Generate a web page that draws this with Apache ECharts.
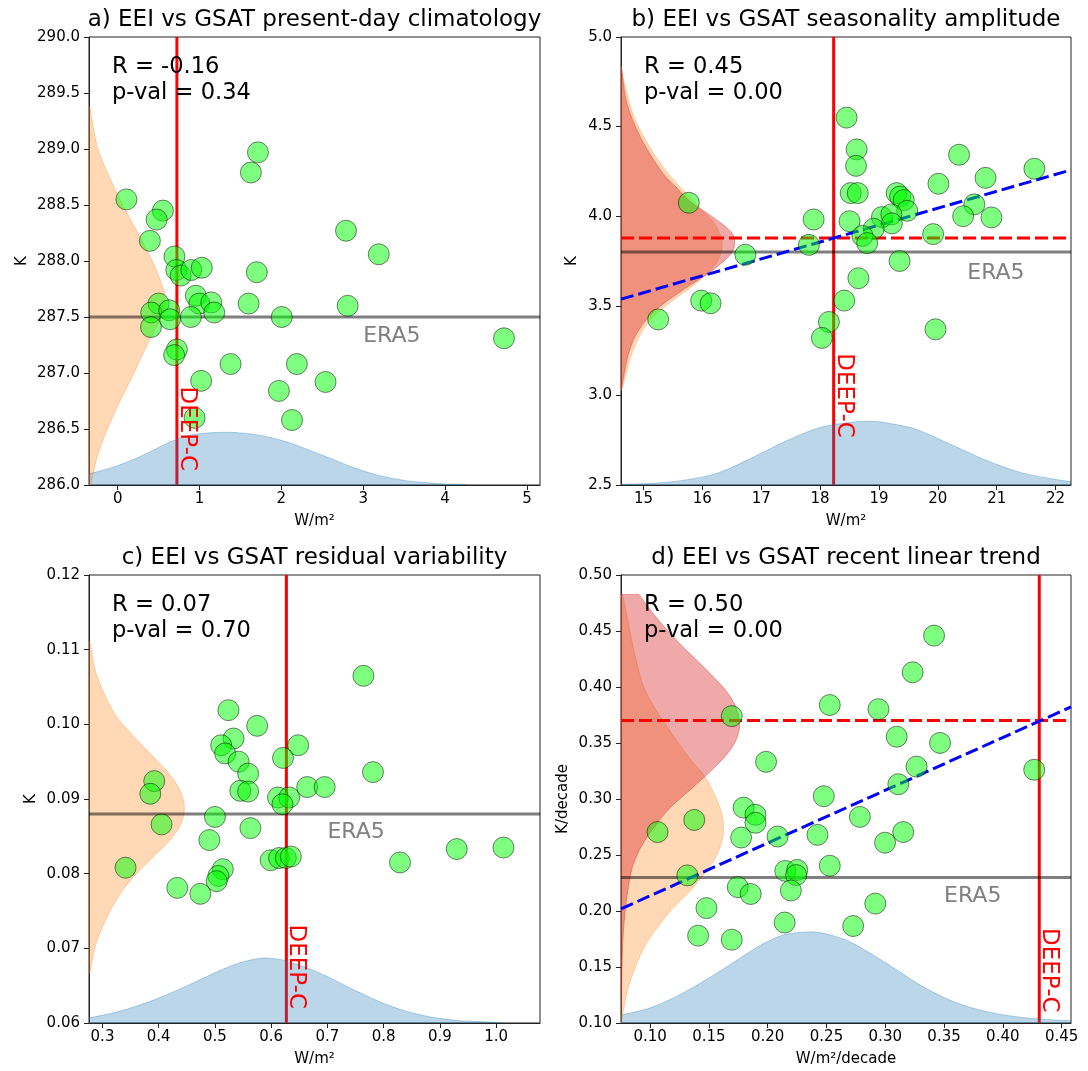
<!DOCTYPE html>
<html><head><meta charset="utf-8">
<script src="https://cdn.jsdelivr.net/npm/echarts@6/dist/echarts.min.js"></script>
<style>html,body{margin:0;padding:0;background:#fff}#c{width:1088px;height:1071px}</style>
</head><body><div id="c"></div>
<script>
// ---------------- DATA ----------------
const titles = ['a) EEI vs GSAT present-day climatology','b) EEI vs GSAT seasonality amplitude','c) EEI vs GSAT residual variability','d) EEI vs GSAT recent linear trend'];
const rVals = ['-0.16','0.45','0.07','0.50'];
const pVals = ['0.34','0.00','0.70','0.00'];
const xNames = ['W/m²','W/m²','W/m²','W/m²/decade'];
const yNames = ['K','K','K','K/decade'];

const xLimA=[-0.35,5.16], yLimA=[286,290];
const xLimB=[14.618,22.262], yLimB=[2.5,5.0];
const xLimC=[0.276,1.078], yLimC=[0.06,0.12];
const xLimD=[0.0752,0.458], yLimD=[0.10,0.50];

const xTicksA=[0,1,2,3,4,5], yTicksA=[286.0,286.5,287.0,287.5,288.0,288.5,289.0,289.5,290.0];
const xTicksB=[15,16,17,18,19,20,21,22], yTicksB=[2.5,3.0,3.5,4.0,4.5,5.0];
const xTicksC=[0.3,0.4,0.5,0.6,0.7,0.8,0.9,1.0], yTicksC=[0.06,0.07,0.08,0.09,0.10,0.11,0.12];
const xTicksD=[0.10,0.15,0.20,0.25,0.30,0.35,0.40,0.45], yTicksD=[0.10,0.15,0.20,0.25,0.30,0.35,0.40,0.45,0.50];

const aX=[0.107,0.553,0.476,0.394,1.628,1.714,2.79,3.19,0.694,0.716,0.77,0.90,1.028,1.70,0.955,0.998,1.144,1.18,1.60,2.81,0.50,0.41,0.63,0.64,0.895,0.407,2.005,4.72,0.724,0.69,1.38,2.19,1.02,2.54,1.97,2.13,0.94];
const aY=[288.55,288.45,288.37,288.18,288.79,288.97,288.27,288.06,288.04,287.92,287.87,287.92,287.94,287.90,287.69,287.62,287.63,287.54,287.62,287.60,287.62,287.54,287.56,287.48,287.50,287.41,287.50,287.31,287.21,287.16,287.08,287.08,286.93,286.92,286.84,286.58,286.60];
const bX=[18.45,18.62,18.61,20.36,21.64,20.81,20.01,18.52,18.64,19.30,19.36,19.42,19.48,15.77,20.62,20.43,20.91,17.89,18.50,19.05,19.21,19.22,18.91,19.92,18.72,18.80,17.81,16.73,19.35,18.65,15.98,16.14,15.25,18.41,18.15,18.03,19.96];
const bY=[4.55,4.373,4.281,4.343,4.265,4.214,4.181,4.129,4.129,4.129,4.11,4.09,4.03,4.075,4.066,4.0,3.993,3.982,3.972,3.995,4.01,3.96,3.93,3.90,3.89,3.85,3.84,3.785,3.75,3.654,3.529,3.514,3.424,3.529,3.41,3.321,3.369];
const cX=[0.764,0.524,0.575,0.533,0.511,0.518,0.648,0.621,0.542,0.559,0.781,0.392,0.385,0.545,0.559,0.664,0.695,0.612,0.632,0.620,0.500,0.405,0.563,0.490,0.341,0.514,0.506,0.503,0.433,0.474,0.599,0.614,0.626,0.635,0.829,0.930,1.013];
const cY=[0.1065,0.1019,0.0998,0.0981,0.0972,0.0961,0.0972,0.0955,0.0950,0.0934,0.0936,0.0924,0.0907,0.0911,0.0910,0.0916,0.0916,0.0902,0.0902,0.0893,0.0876,0.0866,0.0861,0.0845,0.0808,0.0806,0.0797,0.0790,0.0781,0.0773,0.0818,0.0821,0.0821,0.0823,0.0815,0.0833,0.0835];
const dX=[0.3415,0.3233,0.2528,0.2942,0.1694,0.3097,0.3466,0.1986,0.3266,0.4267,0.3111,0.2477,0.1795,0.1896,0.1896,0.2784,0.1375,0.1063,0.1774,0.2084,0.2423,0.3153,0.2998,0.2528,0.2149,0.2251,0.2242,0.1316,0.1745,0.1855,0.2197,0.2915,0.1479,0.2144,0.2727,0.1408,0.1694];
const dY=[0.4459,0.4131,0.3839,0.3802,0.3740,0.3556,0.3501,0.3332,0.3289,0.3261,0.3132,0.3025,0.2923,0.2859,0.2788,0.2840,0.2813,0.2705,0.2656,0.2665,0.2680,0.2705,0.2610,0.2404,0.2358,0.2367,0.2321,0.2318,0.2213,0.2152,0.2183,0.2066,0.2026,0.1897,0.1866,0.1780,0.1744];

// reference values
const deepC=[0.724,18.23,0.627,0.431];
const era5=[287.5,3.80,0.088,0.230];
const constrainedB=3.879, constrainedD=0.370;
const fitB=[[14.618,3.537],[22.262,4.258]];
const fitD=[[0.0752,0.2019],[0.458,0.3822]];
const eraLabel=[[3.0,287.33],[20.5,3.68],[0.70,0.0855],[0.35,0.2134]];
const deepLabelY=[286.88,3.235,0.0732,0.1848];

// density curves ([x, y] in data units)
const blueA=[[-0.35,286.101],[-0.186,286.131],[0.021,286.179],[0.227,286.238],[0.433,286.31],[0.639,286.384],[0.845,286.437],[1.051,286.461],[1.257,286.47],[1.381,286.47],[1.463,286.467],[1.67,286.452],[1.876,286.423],[2.082,286.381],[2.288,286.327],[2.494,286.268],[2.70,286.208],[2.906,286.149],[3.112,286.101],[3.318,286.065],[3.524,286.039],[3.73,286.024],[3.936,286.012],[4.142,286.006],[4.265,286.0]];
const orangeA=[[-0.338,289.375],[-0.31,289.25],[-0.24,289.0],[-0.10,288.75],[0.06,288.5],[0.25,288.25],[0.425,288.0],[0.56,287.75],[0.577,287.65],[0.535,287.5],[0.36,287.25],[0.20,287.0],[0.03,286.75],[-0.125,286.5],[-0.25,286.25],[-0.329,286.0]];
const blueB=[[14.618,2.5037],[15.14,2.5093],[15.71,2.528],[16.28,2.569],[16.85,2.653],[17.42,2.7455],[17.99,2.82],[18.57,2.8516],[18.79,2.8553],[19.02,2.8516],[19.42,2.829],[19.71,2.801],[20.28,2.7176],[20.85,2.634],[21.42,2.569],[21.99,2.5316],[22.262,2.5186]];
const orangeB=[[14.618,4.842],[14.692,4.721],[14.863,4.535],[15.177,4.349],[15.519,4.2],[15.89,4.071],[16.204,3.959],[16.335,3.848],[16.232,3.736],[15.89,3.625],[15.434,3.513],[15.063,3.401],[14.806,3.234],[14.647,3.048],[14.618,3.03]];
const redB=[[14.632,4.814],[14.72,4.628],[14.947,4.442],[15.29,4.257],[15.547,4.164],[15.833,4.071],[16.175,3.996],[16.46,3.922],[16.546,3.866],[16.49,3.792],[16.175,3.699],[15.662,3.587],[15.205,3.476],[14.919,3.364],[14.747,3.234],[14.632,3.048],[14.618,3.03]];
const blueC=[[0.276,0.06067],[0.3299,0.06156],[0.3898,0.06304],[0.4496,0.06496],[0.5095,0.06705],[0.5394,0.06795],[0.5693,0.06853],[0.5873,0.0687],[0.6053,0.06862],[0.6292,0.06826],[0.689,0.06661],[0.7489,0.06438],[0.8087,0.06237],[0.8686,0.06103],[0.9284,0.06036],[0.9882,0.06013],[1.0122,0.06]];
const orangeC=[[0.2777,0.11107],[0.2896,0.1066],[0.3164,0.1021],[0.3373,0.0999],[0.3641,0.0977],[0.394,0.0954],[0.4207,0.0932],[0.4386,0.091],[0.4457,0.0888],[0.4386,0.0865],[0.4177,0.0843],[0.388,0.0821],[0.3581,0.0798],[0.3343,0.0776],[0.3164,0.0754],[0.3015,0.0731],[0.2896,0.0709],[0.2825,0.0687],[0.2777,0.0667]];
const blueD=[[0.0752,0.1071],[0.1014,0.114],[0.13,0.128],[0.1585,0.1458],[0.1871,0.1652],[0.2013,0.1735],[0.2156,0.1792],[0.2327,0.1813],[0.2441,0.1807],[0.2583,0.1771],[0.2726,0.1711],[0.3011,0.1533],[0.3297,0.1339],[0.3582,0.119],[0.3868,0.1101],[0.4153,0.1051],[0.4438,0.1027],[0.458,0.1021]];
const orangeD=[[0.0767,0.4827],[0.0819,0.4554],[0.0877,0.4256],[0.0963,0.3958],[0.1135,0.3661],[0.1336,0.3363],[0.1457,0.3214],[0.1537,0.3065],[0.1595,0.2917],[0.1624,0.2768],[0.1609,0.2619],[0.1552,0.247],[0.1451,0.2321],[0.1336,0.2173],[0.1193,0.2024],[0.1078,0.1875],[0.0977,0.1726],[0.0905,0.1577],[0.0848,0.1429],[0.0805,0.128],[0.0776,0.1131],[0.0756,0.0994]];
const redD=[[0.0905,0.4827],[0.0992,0.4702],[0.1106,0.4554],[0.1236,0.4405],[0.1379,0.4256],[0.1523,0.4107],[0.1652,0.3958],[0.1733,0.381],[0.1762,0.3661],[0.1724,0.3512],[0.1624,0.3363],[0.148,0.3214],[0.1322,0.3065],[0.1164,0.2917],[0.1049,0.2768],[0.0948,0.2619],[0.0877,0.247],[0.0833,0.2321],[0.079,0.2024],[0.0767,0.1726],[0.0759,0.1429],[0.0753,0.1131]];

// ---------------- CHART ----------------
const FONT='"DejaVu Sans", sans-serif';
const grids=[{left:89,top:37,width:451,height:448},{left:621,top:37,width:450,height:448},{left:89,top:575,width:451,height:448},{left:621,top:575,width:450,height:448}];
const xLims=[xLimA,xLimB,xLimC,xLimD], yLims=[yLimA,yLimB,yLimC,yLimD];
const xTicks=[xTicksA,xTicksB,xTicksC,xTicksD], yTicks=[yTicksA,yTicksB,yTicksC,yTicksD];
const xFmt=[v=>v.toFixed(0),v=>v.toFixed(0),v=>v.toFixed(1),v=>v.toFixed(2)];
const yFmt=[v=>v.toFixed(1),v=>v.toFixed(1),v=>v.toFixed(2),v=>v.toFixed(2)];
const yNameGap=[59,41,50,50];
const scatterX=[aX,bX,cX,dX], scatterY=[aY,bY,cY,dY];

const BLUE='rgba(31,119,180,0.3)', ORANGE='rgba(255,127,14,0.3)', RED='rgba(214,39,40,0.4)';

function catmull(p){
  let d='';
  for(let i=0;i<p.length-1;i++){
    const p0=p[i-1]||p[i], p1=p[i], p2=p[i+1], p3=p[i+2]||p[i+1];
    const c1=[p1[0]+(p2[0]-p0[0])/6, p1[1]+(p2[1]-p0[1])/6];
    const c2=[p2[0]-(p3[0]-p1[0])/6, p2[1]-(p3[1]-p1[1])/6];
    d+=' C'+c1[0]+','+c1[1]+' '+c2[0]+','+c2[1]+' '+p2[0]+','+p2[1];
  }
  return d;
}
function kde(gi,pts,side,color){
  return {type:'custom',xAxisIndex:gi,yAxisIndex:gi,clip:true,silent:true,z:2,animation:false,
    data:pts,encode:{x:0,y:1},
    renderItem:function(params,api){
      if(params.dataIndex!==0) return null;
      const px=pts.map(p=>api.coord(p));
      const f=pts[0], l=pts[pts.length-1];
      const base= side==='left'? xLims[gi][0] : yLims[gi][0];
      const b1= side==='left'? api.coord([base,f[1]]) : api.coord([f[0],base]);
      const b2= side==='left'? api.coord([base,l[1]]) : api.coord([l[0],base]);
      const d='M'+b1[0]+','+b1[1]+' L'+px[0][0]+','+px[0][1]+catmull(px)+' L'+b2[0]+','+b2[1]+' Z';
      return {type:'path',shape:{pathData:d},style:{fill:color,stroke:color,lineWidth:1}};
    }};
}
function seg(gi,pts,color,type,z){
  return {type:'line',xAxisIndex:gi,yAxisIndex:gi,data:pts,symbol:'none',silent:true,z:z,clip:true,animation:false,
    lineStyle:{color:color,width:3,type:type}};
}
function label(gi,pos,text,color,rot,dx,dy,align,valign,size){
  return {type:'custom',xAxisIndex:gi,yAxisIndex:gi,data:[pos],z:6,silent:true,clip:false,animation:false,
    renderItem:function(params,api){
      const p=api.coord(pos);
      return {type:'text',x:p[0]+dx,y:p[1]+dy,rotation:rot,
        style:{text:text,fill:color,fontSize:size,fontFamily:FONT,align:align,verticalAlign:valign}};
    }};
}

const xAxes=[], yAxes=[], series=[], graphics=[];
for(let i=0;i<4;i++){
  xAxes.push({gridIndex:i,type:'value',min:xLims[i][0],max:xLims[i][1],
    axisLine:{show:true,onZero:false,lineStyle:{color:'#222',width:1}},
    axisTick:{show:true,inside:false,length:5,customValues:xTicks[i],lineStyle:{color:'#222',width:1}},
    axisLabel:{customValues:xTicks[i],formatter:xFmt[i],fontSize:15,color:'#000',fontFamily:FONT,margin:7},
    splitLine:{show:false},
    name:xNames[i],nameLocation:'middle',nameGap:29,nameMoveOverlap:false,
    nameTextStyle:{fontSize:15,color:'#000',fontFamily:FONT}});
  yAxes.push({gridIndex:i,type:'value',min:yLims[i][0],max:yLims[i][1],
    axisLine:{show:true,onZero:false,lineStyle:{color:'#222',width:1}},
    axisTick:{show:true,inside:false,length:5,customValues:yTicks[i],lineStyle:{color:'#222',width:1}},
    axisLabel:{customValues:yTicks[i],formatter:yFmt[i],fontSize:15,color:'#000',fontFamily:FONT,margin:9},
    splitLine:{show:false},
    name:yNames[i],nameLocation:'middle',nameGap:yNameGap[i],nameMoveOverlap:false,
    nameTextStyle:{fontSize:15,color:'#000',fontFamily:FONT}});
  const g=grids[i];
  graphics.push({type:'text',x:g.left+g.width/2,y:g.top-16.8,z:100,
    style:{text:titles[i],fontSize:23,fontFamily:FONT,fill:'#000',align:'center',verticalAlign:'middle'}});
  graphics.push({type:'text',x:g.left+23,y:g.top+30.2,z:100,
    style:{text:'R = '+rVals[i],fontSize:22.6,fontFamily:FONT,fill:'#000',align:'left',verticalAlign:'middle'}});
  graphics.push({type:'text',x:g.left+23,y:g.top+56,z:100,
    style:{text:'p-val = '+pVals[i],fontSize:22.6,fontFamily:FONT,fill:'#000',align:'left',verticalAlign:'middle'}});

  // DEEP-C vertical line (below density fills)
  series.push(seg(i,[[deepC[i],yLims[i][0]],[deepC[i],yLims[i][1]]],'#ff0000','solid',1));
}
// density fills
series.push(kde(0,blueA,'bottom',BLUE), kde(0,orangeA,'left',ORANGE));
series.push(kde(1,blueB,'bottom',BLUE), kde(1,orangeB,'left',ORANGE), kde(1,redB,'left',RED));
series.push(kde(2,blueC,'bottom',BLUE), kde(2,orangeC,'left',ORANGE));
series.push(kde(3,blueD,'bottom',BLUE), kde(3,orangeD,'left',ORANGE), kde(3,redD,'left',RED));
// horizontal reference lines and fits
for(let i=0;i<4;i++){
  series.push(seg(i,[[xLims[i][0],era5[i]],[xLims[i][1],era5[i]]],'rgba(0,0,0,0.5)','solid',3));
}
series.push(seg(1,[[xLimB[0],constrainedB],[xLimB[1],constrainedB]],'#ff0000',[13,5],3));
series.push(seg(3,[[xLimD[0],constrainedD],[xLimD[1],constrainedD]],'#ff0000',[13,5],3));
series.push(seg(1,fitB,'#0000ff',[13,5],3));
series.push(seg(3,fitD,'#0000ff',[13,5],3));
// scatter
for(let i=0;i<4;i++){
  series.push({type:'scatter',xAxisIndex:i,yAxisIndex:i,silent:true,z:4,animation:false,
    data:scatterX[i].map((x,k)=>[x,scatterY[i][k]]),symbol:'circle',symbolSize:21,
    itemStyle:{color:'rgba(0,255,0,0.5)',borderColor:'rgba(0,0,0,0.5)',borderWidth:1,opacity:1}});
  series.push(label(i,eraLabel[i],'ERA5','#808080',0,0,0,'left','middle',22));
  series.push(label(i,[deepC[i],deepLabelY[i]],'DEEP-C','#ff0000',-Math.PI/2,10,0,'left','middle',23));
}

const chart=echarts.init(document.getElementById('c'),null,{renderer:'canvas'});
chart.setOption({
  animation:false,
  backgroundColor:'#fff',
  grid:grids.map(g=>Object.assign({show:true,borderColor:'#222',borderWidth:1,backgroundColor:'transparent',containLabel:false,outerBoundsMode:'none'},g)),
  xAxis:xAxes, yAxis:yAxes, series:series, graphic:graphics
});
</script></body></html>
